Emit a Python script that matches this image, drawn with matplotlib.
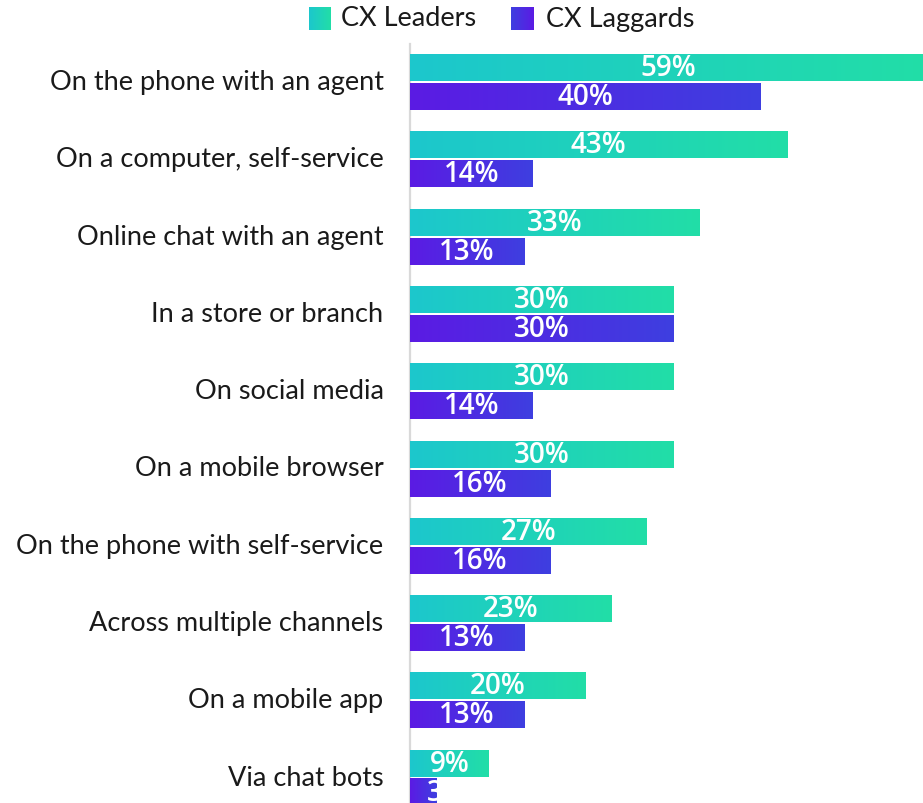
import numpy as np
import matplotlib.pyplot as plt
from matplotlib.colors import LinearSegmentedColormap

channels = [
    "On the phone with an agent",
    "On a computer, self-service",
    "Online chat with an agent",
    "In a store or branch",
    "On social media",
    "On a mobile browser",
    "On the phone with self-service",
    "Across multiple channels",
    "On a mobile app",
    "Via chat bots",
]
leaders = [59, 43, 33, 30, 30, 30, 27, 23, 20, 9]
laggards = [40, 14, 13, 30, 14, 16, 16, 13, 13, 3]
series_names = ["CX Leaders", "CX Laggards"]

leader_cmap = LinearSegmentedColormap.from_list("leaders", ["#1cc7cd", "#22dea7"])
laggard_cmap = LinearSegmentedColormap.from_list("laggards", ["#5b1be4", "#3e3fe0"])

W, H = 923, 804
fig = plt.figure(figsize=(W / 100, H / 100), dpi=100)
ax = fig.add_axes([410 / W, 0, 1 - 410 / W, 759 / H])

grad = np.linspace(0, 1, 256).reshape(1, -1)
bar_h = 0.349
offset = 0.1876
y = np.arange(len(channels))
label_font = dict(family="Lato", fontweight="normal", fontsize=19.5, color="#1a1a1a")


def gradient_bars(ypos, values, cmap):
    bars = ax.barh(ypos, values, height=bar_h, color="none", edgecolor="none")
    for bar, v in zip(bars, values):
        x0, y0 = bar.get_xy()
        ax.imshow(grad, cmap=cmap, aspect="auto", interpolation="bicubic",
                  extent=(x0, x0 + bar.get_width(), y0 + bar.get_height(), y0),
                  zorder=2)
        # small bars get their label pushed right and cut off at the bar end
        lx, ha = (v / 2, "center") if v >= 5 else (1.9, "left")
        t = ax.text(lx, bar.get_y() + bar.get_height() / 2, f"{v}%",
                    ha=ha, va="center", color="white", fontsize=20,
                    fontweight="semibold", family="Open Sans", zorder=3)
        t.set_clip_path(bar)


gradient_bars(y - offset, leaders, leader_cmap)
gradient_bars(y + offset, laggards, laggard_cmap)

ax.set_xlim(0, 513 / 8.77)
ax.set_ylim(9.327, -0.4916)
ax.set_yticks(y - 0.04)
ax.set_yticklabels(channels, **label_font)
ax.tick_params(axis="y", length=0, pad=19)
ax.set_xticks([])
for side in ["top", "right", "bottom"]:
    ax.spines[side].set_visible(False)
ax.spines["left"].set_color("#d9d9d9")
ax.spines["left"].set_linewidth(1.6)
ax.spines["left"].set_zorder(1)

# legend: gradient swatches with labels
for (sx, tx), name, cmap in zip([(309, 341), (511, 546)], series_names,
                                [leader_cmap, laggard_cmap.reversed()]):
    sw = fig.add_axes([sx / W, 1 - 31 / H, 22 / W, 23 / H])
    sw.imshow(grad, cmap=cmap, aspect="auto", interpolation="bicubic")
    sw.axis("off")
    fig.text(tx / W, 1 - 19 / H, name, ha="left", va="center", **label_font)

fig.savefig("out.png", dpi=100)
